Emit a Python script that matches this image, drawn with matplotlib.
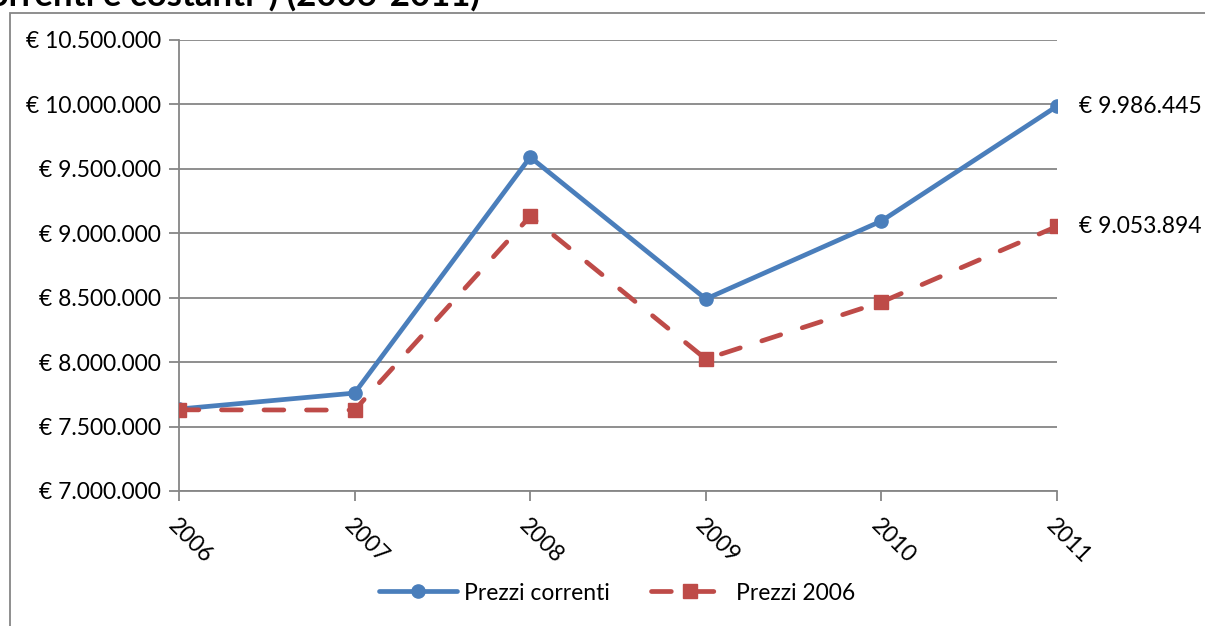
import matplotlib
matplotlib.use("Agg")
import matplotlib.pyplot as plt
from matplotlib.patches import Rectangle
from matplotlib.ticker import FuncFormatter
import numpy as np

years = ["2006", "2007", "2008", "2009", "2010", "2011"]
correnti = [7636000, 7760000, 9591000, 8490000, 9095000, 9986445]
costanti = [7630000, 7628000, 9133000, 8024000, 8466000, 9053894]
series_names = ["Prezzi correnti", "Prezzi 2006"]
title = "correnti e costanti*) (2006-2011)"

plt.rcParams['font.family'] = ['Lato', 'DejaVu Sans']

blue = "#4A7EBB"
red = "#BE4B48"
grey = "#868686"
fs = 16.5

def euro(v, pos=None):
    return "€ " + f"{int(round(v)):,}".replace(",", ".")

fig = plt.figure(figsize=(12.05, 6.26), dpi=100)
ax = fig.add_axes([179/1205, 1-491/626, (1057-179)/1205, (491-40)/626])

x = np.arange(len(years))
ax.plot(x, correnti, color=blue, lw=3.4, marker="o", ms=9.5, label=series_names[0],
        solid_capstyle="round", zorder=3)
ax.plot(x, costanti, color=red, lw=3.4, marker="s", ms=10, label=series_names[1],
        dashes=(4.2, 4.8), dash_capstyle="round", zorder=3)

ax.set_xlim(0, len(years)-1)
ax.set_ylim(7000000, 10500000)
ax.set_yticks(np.arange(7000000, 10500001, 500000))
ax.yaxis.set_major_formatter(FuncFormatter(euro))
ax.set_xticks(x)
ax.set_xticklabels(years, rotation=-45, ha="left", va="top", rotation_mode="anchor")
ax.tick_params(axis="both", labelsize=fs, colors=grey, labelcolor="black", length=7, width=1.3)
ax.tick_params(axis="x", pad=10)
ax.tick_params(axis="y", pad=6)
ax.grid(axis="y", color=grey, lw=1.3)
for s in ["top", "right"]:
    ax.spines[s].set_visible(False)
for s in ["left", "bottom"]:
    ax.spines[s].set_color(grey)
    ax.spines[s].set_linewidth(1.3)
ax.set_axisbelow(True)

ax.annotate(euro(correnti[-1]), (x[-1], correnti[-1]), xytext=(16, 0),
            textcoords="offset points", va="center", fontsize=fs)
ax.annotate(euro(costanti[-1]), (x[-1], costanti[-1]), xytext=(16, 0),
            textcoords="offset points", va="center", fontsize=fs)

ax.legend(loc="center", bbox_to_anchor=(617/1205, 1-593/626), bbox_transform=fig.transFigure,
          ncol=2, frameon=False, fontsize=fs, handlelength=3.4, columnspacing=1.8,
          handletextpad=0.3)

fig.patches.append(Rectangle((10/1205, -0.1), 2, 1.1-13/626, transform=fig.transFigure,
                             fill=False, edgecolor=grey, lw=1.3))
fig.text(480/1205, 1-6/626, title, ha="right", va="baseline", fontsize=25, fontweight="bold")

fig.savefig("out.png", dpi=100)
